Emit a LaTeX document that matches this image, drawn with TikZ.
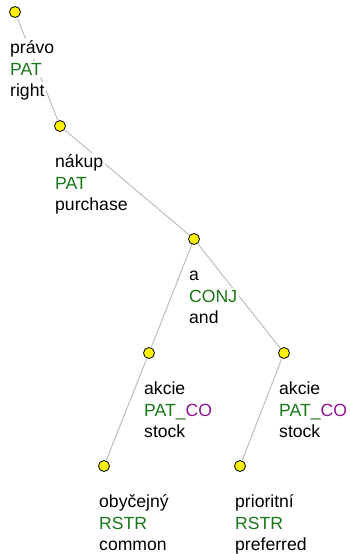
\documentclass[tikz,border=0pt]{standalone}
\usepackage{fontspec}
\setmainfont{Liberation Sans}
\definecolor{fgreen}{RGB}{25,120,25}
\definecolor{fpurple}{RGB}{145,20,150}
\definecolor{edgegray}{RGB}{190,190,190}
\tikzset{
  dot/.style={circle,draw=black,fill=yellow,minimum size=11pt,inner sep=0pt,line width=0.8pt},
  edge/.style={draw=edgegray,line width=1pt},
  lab/.style={anchor=base west,fill=white,inner xsep=2pt,inner ysep=2pt,font=\fontsize{17.6}{20}\selectfont},
  fun/.style={lab,text=fgreen}
}
\begin{document}
\begin{tikzpicture}[x=1pt,y=-1pt]
\useasboundingbox (0,0) rectangle (350,554);
% dots
\node[dot] (n1) at (15,12) {};
\node[dot] (n2) at (60,126) {};
\node[dot] (n3) at (194,239) {};
\node[dot] (n4) at (149,353) {};
\node[dot] (n5) at (284,353) {};
\node[dot] (n6) at (104,466) {};
\node[dot] (n7) at (240,466) {};
% edges
\draw[edge] (n1) -- (n2);
\draw[edge] (n2) -- (n3);
\draw[edge] (n3) -- (n4);
\draw[edge] (n3) -- (n5);
\draw[edge] (n4) -- (n6);
\draw[edge] (n5) -- (n7);
% labels
\node[lab] (w1) at (8,53.5) {právo};
\node[fun] (f1) at (8,75) {PAT};
\node[lab] (g1) at (8,96.5) {right};
\node[lab] (w2) at (53,167.5) {nákup};
\node[fun] (f2) at (53,189) {PAT};
\node[lab] (g2) at (53,210.5) {purchase};
\node[lab] (w3) at (187,280.5) {a};
\node[fun] (f3) at (187,302) {CONJ};
\node[lab] (g3) at (187,323.5) {and};
\node[lab] (w4) at (142,394.5) {akcie};
\node[fun] (f4) at (142,416) {PAT\_\textcolor{fpurple}{CO}};
\node[lab] (g4) at (142,437.5) {stock};
\node[lab] (w5) at (277,394.5) {akcie};
\node[fun] (f5) at (277,416) {PAT\_\textcolor{fpurple}{CO}};
\node[lab] (g5) at (277,437.5) {stock};
\node[lab] (w6) at (97,507.5) {obyčejný};
\node[fun] (f6) at (97,529) {RSTR};
\node[lab] (g6) at (97,550.5) {common};
\node[lab] (w7) at (233,507.5) {prioritní};
\node[fun] (f7) at (233,529) {RSTR};
\node[lab] (g7) at (233,550.5) {preferred};
\end{tikzpicture}
\end{document}
